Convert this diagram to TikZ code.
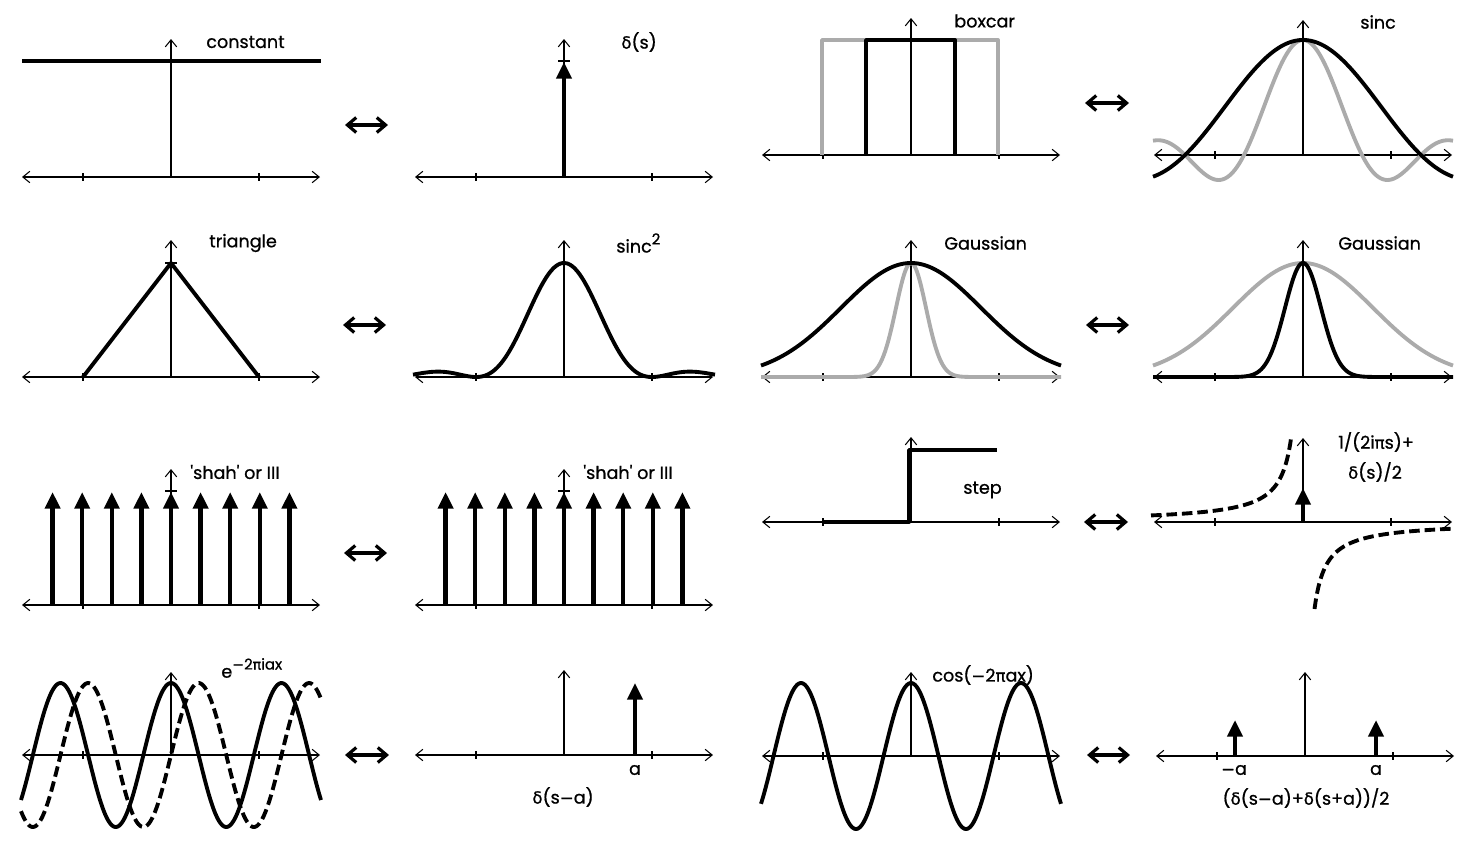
\documentclass[tikz,border=0pt]{standalone}
\usepackage{fontspec}
\setmainfont{Poppins}[FakeBold=0.8]
\newfontfamily\symfont[Scale=0.95,FakeBold=0.8]{DejaVu Sans}
\usetikzlibrary{arrows.meta}

\definecolor{curvegray}{gray}{0.67}
\newcommand{\dl}{{\symfont δ}}
\newcommand{\pii}{{\symfont π}}
\newcommand{\mn}{{\symfont −}}
\newcommand{\raised}[1]{\raisebox{0.85ex}{\fontsize{8.5}{10}\selectfont #1}}

\tikzset{
  xaxis/.style={line width=0.6pt, {Straight Barb[length=4pt,width=6.5pt]}-{Straight Barb[length=4pt,width=6.5pt]}},
  yaxis/.style={line width=0.6pt, -{Straight Barb[length=4pt,width=6.5pt]}},
  curve/.style={line width=2.2pt, line join=round},
  graycurve/.style={curve, draw=curvegray},
  dashcurve/.style={curve, dash pattern=on 6pt off 2.8pt},
  spike/.style={line width=2.4pt, -{Triangle[length=9.5pt,width=8.5pt]}},
  pairarrow/.style={line width=1.8pt, {Straight Barb[length=5pt,width=8.5pt]}-{Straight Barb[length=5pt,width=8.5pt]}},
  lbl/.style={font=\fontsize{10}{12}\selectfont, inner sep=0pt}
}

% axes of one panel: centre x, axis y, top of vertical axis
\newcommand{\plotaxes}[3]{%
  \draw[xaxis] ({#1-149},#2) -- ({#1+149},#2);
  \draw[line width=0.6pt] ({#1-88},{#2-4}) -- ({#1-88},{#2+4}) ({#1+88},{#2-4}) -- ({#1+88},{#2+4});
  \draw[yaxis] (#1,#2) -- (#1,#3);
}

\begin{document}
\begin{tikzpicture}[x=0.02cm, y=-0.02cm]
    \useasboundingbox (0,0) rectangle (1477,846);

    % row 1: constant / delta, boxcar / sinc
    \plotaxes{171}{177}{39}
    \draw[curve] (22,61) -- (321,61);
    \node[lbl, anchor=west] (tconst) at (206,42) {constant};

    \plotaxes{564}{177}{39}
    \draw[line width=0.6pt] (558,61) -- (570,61);
    \draw[spike] (564,177) -- (564,62);
    \node[lbl, anchor=west] (tdelta) at (621,42) {\dl(s)};

    \plotaxes{911}{155}{18}
    \draw[graycurve] (822,155) -- (822,40) -- (998,40) -- (998,155);
    \draw[curve] (866,155) -- (866,40) -- (955,40) -- (955,155);
    \node[lbl, anchor=west] (tbox) at (954,21) {boxcar};

    \plotaxes{1303}{155}{20}
    \draw[graycurve, domain=-150:150, samples=200] plot ({1303+\x},{155-115*sin(180/59*\x)/(pi/59*\x)});
    \draw[curve, domain=-150:150, samples=200] plot ({1303+\x},{155-115*sin(180/118*\x)/(pi/118*\x)});
    \node[lbl, anchor=west] (tsinc) at (1360,22) {sinc};

    % row 2: triangle / sinc^2, Gaussian / Gaussian
    \plotaxes{171}{377}{240}
    \draw[line width=0.6pt] (165,263) -- (177,263);
    \draw[curve] (83,377) -- (171,263) -- (259,377);
    \node[lbl, anchor=west] (ttri) at (209,243) {triangle};

    \plotaxes{564}{377}{240}
    \draw[curve, domain=-151:151, samples=200] plot ({564+\x},{377-114*(sin(180/88*\x)/(pi/88*\x))^2});
    \node[lbl, anchor=west] (tsincsq) at (616,243) {sinc\raised{2}};

    \plotaxes{911}{377}{240}
    \draw[graycurve, domain=-150:150, samples=301] plot ({911+\x},{377-114*exp(-0.5*(\x/15)^2)});
    \draw[curve, domain=-150:150, samples=150] plot ({911+\x},{377-114*exp(-0.5*(\x/70)^2)});
    \node[lbl, anchor=west] (tgaussa) at (944,243) {Gaussian};

    \plotaxes{1303}{377}{240}
    \draw[graycurve, domain=-150:150, samples=150] plot ({1303+\x},{377-114*exp(-0.5*(\x/70)^2)});
    \draw[curve, domain=-150:150, samples=301] plot ({1303+\x},{377-114*exp(-0.5*(\x/18)^2)});
    \node[lbl, anchor=west] (tgaussb) at (1338,243) {Gaussian};

    % row 3: shah / shah, step / its transform
    \foreach \c in {171,564} {
        \plotaxes{\c}{605}{469}
        \draw[line width=0.6pt] ({\c-6},491) -- ({\c+6},491);
        \foreach \k in {-4,...,4}
            \draw[spike] ({\c+29.6*\k},605) -- ({\c+29.6*\k},492);
        \node[lbl, anchor=west] (tshah\c) at ({\c+19},472) {\textquotesingle shah\textquotesingle{} or III};
    }

    \plotaxes{911}{522}{437}
    \draw[curve] (822,522) -- (909,522) -- (909,450) -- (997,450);
    \node[lbl, anchor=west] (tstep) at (963,490) {step};

    \plotaxes{1303}{522}{438}
    \draw[spike] (1303,522) -- (1303,488);
    \draw[dashcurve, domain=-152:-11.5, samples=120] plot ({1303+\x},{522+1000/\x});
    \draw[dashcurve, domain=11.5:148, samples=120] plot ({1303+\x},{522+1000/\x});
    \node[lbl] (tinva) at (1376,442) {1/(2i\pii s)+};
    \node[lbl] (tinvb) at (1375,472) {\dl(s)/2};

    % row 4: complex exponential / shifted delta, cosine / pair of deltas
    \plotaxes{171}{755}{672}
    \draw[curve, domain=-150:150, samples=200] plot ({171+\x},{755-72*cos(360/110.5*\x)});
    \draw[dashcurve, domain=-150:150, samples=200] plot ({171+\x},{755-72*sin(360/110.5*\x)});
    \node[lbl, anchor=west] (texp) at (221,668) {e\raised{\mn2\pii iax}};

    \plotaxes{564}{755}{670}
    \draw[spike] (635,755) -- (635,683);
    \node[lbl] (tshift) at (635,770) {a};
    \node[lbl] (tdsa) at (563,797) {\dl(s\mn a)};

    \plotaxes{911}{756}{672}
    \draw[curve, domain=-150:150, samples=200] plot ({911+\x},{756-73*cos(360/110*\x)});
    \node[lbl, anchor=west] (tcos) at (932,675) {cos(\mn2\pii ax)};

    \plotaxes{1305}{756}{672}
    \draw[spike] (1235,756) -- (1235,720);
    \draw[spike] (1376,756) -- (1376,720);
    \node[lbl] (tma) at (1234,770) {\mn a};
    \node[lbl] (tpa) at (1376,770) {a};
    \node[lbl] (tpair) at (1306,798) {(\dl(s\mn a)+\dl(s+a))/2};

    % transform arrows between the panels of each pair
    \foreach \xa/\xb/\y [count=\i] in {345/388/125, 1085/1129/103, 343/386/325, 1086/1129/325,
                                      344/387/553, 1084/1128/522, 345/389/755, 1087/1130/755} {
        \coordinate (pa\i) at (\xa,\y);
        \coordinate (pb\i) at (\xb,\y);
        \draw[pairarrow] (pa\i) -- (pb\i);
    }
\end{tikzpicture}
\end{document}
